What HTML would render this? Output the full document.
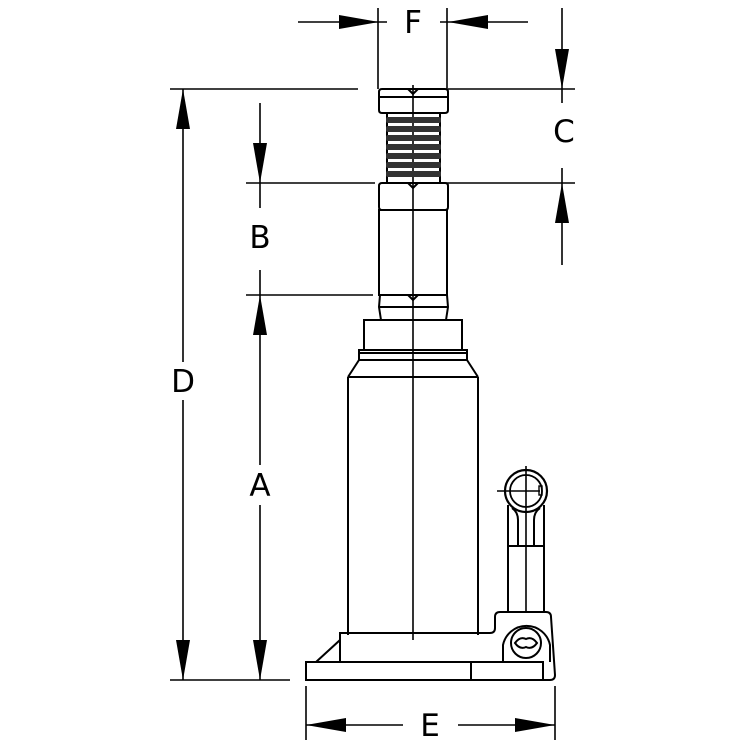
<!DOCTYPE html>
<html><head><meta charset="utf-8"><style>
html,body{margin:0;padding:0;background:#fff;}
svg{display:block;}
text{font-family:"DejaVu Sans","Liberation Sans",sans-serif;font-size:31px;fill:#000;text-anchor:middle;}
</style></head><body>
<svg width="747" height="745" viewBox="0 0 747 745" xmlns="http://www.w3.org/2000/svg">
<g stroke="#000" stroke-width="1.6" fill="none">
<!-- extension lines -->
<line x1="170" y1="89" x2="358" y2="89"/>
<line x1="448" y1="89" x2="575" y2="89"/>
<line x1="440" y1="183" x2="575" y2="183"/>
<line x1="246" y1="183" x2="375" y2="183"/>
<line x1="246" y1="295" x2="373" y2="295"/>
<line x1="170" y1="680" x2="290" y2="680"/>
<line x1="378" y1="8" x2="378" y2="89"/>
<line x1="447" y1="8" x2="447" y2="89"/>
<line x1="306" y1="686" x2="306" y2="740"/>
<line x1="555" y1="686" x2="555" y2="740"/>
<!-- dimension lines -->
<line x1="298" y1="22" x2="387" y2="22"/>
<line x1="440" y1="22" x2="528" y2="22"/>
<line x1="562" y1="8" x2="562" y2="103"/>
<line x1="562" y1="168" x2="562" y2="265"/>
<line x1="183" y1="89" x2="183" y2="362"/>
<line x1="183" y1="400" x2="183" y2="680"/>
<line x1="260" y1="103" x2="260" y2="208"/>
<line x1="260" y1="270" x2="260" y2="465"/>
<line x1="260" y1="505" x2="260" y2="680"/>
<line x1="306" y1="725" x2="403" y2="725"/>
<line x1="458" y1="725" x2="555" y2="725"/>
</g>
<g stroke="#000" stroke-width="2" fill="none">
<line x1="413" y1="85" x2="413" y2="640" stroke-width="1.6"/>
<path d="M379 92 Q379 89 382 89 H445 Q448 89 448 92 V110 Q448 113 445 113 H382 Q379 113 379 110 Z"/>
<line x1="379" y1="97" x2="448" y2="97"/>
<path d="M408 89 L413 94 L418 89"/>
<rect x="387" y="113" width="53" height="70"/>
<path d="M379 186 Q379 183 382 183 H445 Q448 183 448 186 V207 Q448 210 445 210 H382 Q379 210 379 207 Z"/>
<path d="M408 183 L413 188 L418 183"/>
<rect x="379" y="210" width="68" height="85"/>
<path d="M408 295 L413 300 L418 295"/>
<path d="M380 295 L379 307 L381 320 M447 295 L448 307 L446 320"/>
<line x1="380" y1="307" x2="447" y2="307"/>
<rect x="364" y="320" width="98" height="30"/>
<rect x="359" y="350" width="108" height="10"/>
<line x1="359" y1="353" x2="467" y2="353"/>
<path d="M359 360 L348 377 M467 360 L478 377"/>
<line x1="348" y1="377" x2="478" y2="377"/>
<line x1="348" y1="377" x2="348" y2="635"/>
<line x1="478" y1="377" x2="478" y2="635"/>
<!-- base -->
<path d="M316 662 L340 640 V633 H490 Q495 633 495 628 V617 Q495 612 500 612 H546 Q551 612 551 617 L555 675 Q555 680 550 680 H306 V662 H543 V680"/>
<line x1="340" y1="640" x2="340" y2="662"/>
<line x1="471" y1="662" x2="471" y2="680"/>
<path d="M503 662 V645 A24 24 0 0 1 550 645 V662"/>
<circle cx="526" cy="643" r="15"/>
<path d="M515 643 Q520 636 526 639 Q532 636 537 643 Q532 650 526 647 Q520 650 515 643 Z"/>
<!-- handle -->
<line x1="508" y1="505" x2="508" y2="612"/>
<line x1="544" y1="505" x2="544" y2="612"/>
<line x1="508" y1="546" x2="544" y2="546"/>
<path d="M512 508 Q518 512 518 520 V546"/>
<path d="M540 508 Q534 512 534 520 V546"/>
<line x1="526" y1="466" x2="526" y2="612" stroke-width="1.6"/>
<line x1="497" y1="491" x2="540" y2="491" stroke-width="1.6"/>
<rect x="539" y="486" width="3" height="9" stroke-width="1.4"/>
</g>
<circle cx="526" cy="491" r="21" fill="none" stroke="#000" stroke-width="2.2"/>
<circle cx="526" cy="491" r="16" fill="none" stroke="#000" stroke-width="1.8"/>
<g fill="#333">
<rect x="386" y="117" width="55" height="6" rx="2"/>
<rect x="386" y="126" width="55" height="6" rx="2"/>
<rect x="386" y="135" width="55" height="6" rx="2"/>
<rect x="386" y="144" width="55" height="6" rx="2"/>
<rect x="386" y="153" width="55" height="6" rx="2"/>
<rect x="386" y="162" width="55" height="6" rx="2"/>
<rect x="386" y="171" width="55" height="6" rx="2"/>
</g>
<g fill="#000">
<polygon points="379,22 339,15 339,29"/>
<polygon points="448,22 488,15 488,29"/>
<polygon points="562,89 555,49 569,49"/>
<polygon points="562,183 555,223 569,223"/>
<polygon points="183,89 176,129 190,129"/>
<polygon points="183,680 176,640 190,640"/>
<polygon points="260,183 253,143 267,143"/>
<polygon points="260,295 253,335 267,335"/>
<polygon points="260,680 253,640 267,640"/>
<polygon points="306,725 346,718 346,732"/>
<polygon points="555,725 515,718 515,732"/>
</g>
<text x="413" y="33">F</text>
<text x="564" y="142">C</text>
<text x="183" y="392">D</text>
<text x="260" y="248">B</text>
<text x="260" y="496">A</text>
<text x="430" y="736">E</text>
</svg>
</body></html>
